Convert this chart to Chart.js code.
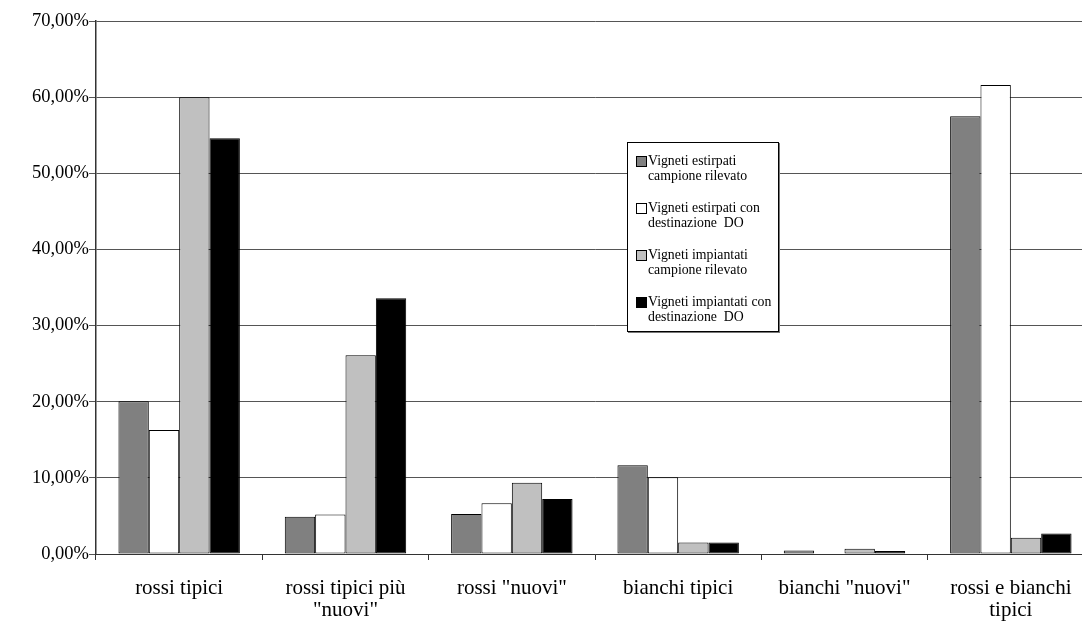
<!DOCTYPE html>
<html>
<head>
<meta charset="utf-8">
<script src="https://cdn.jsdelivr.net/npm/chart.js@4"></script>
<style>
  html, body { margin: 0; padding: 0; background: #fff; overflow: hidden; width: 1082px; height: 621px; }
  #wrap { position: absolute; left: 0; top: 0; width: 1100px; height: 621px; }
  #legend {
    position: absolute; left: 627px; top: 142px; width: 150px; height: 188px;
    border: 1px solid #000; background: #fff; box-shadow: 1px 1px 0 #777;
    font-family: "Liberation Serif", "Times New Roman", serif; font-size: 13.8px; color: #000;
    box-sizing: content-box;
  }
  .item { position: absolute; left: 0; width: 150px; height: 30px; }
  .sw { position: absolute; left: 8px; top: 3px; width: 9px; height: 9px; border: 1px solid #000; }
  .txt { position: absolute; left: 20px; top: 0; line-height: 15px; white-space: pre; }
</style>
</head>
<body>
<div id="wrap"><canvas id="c" width="1100" height="621"></canvas></div>
<div id="legend"></div>
<script>
const categories = [
  ["rossi tipici"],
  ["rossi tipici più", "\"nuovi\""],
  ["rossi \"nuovi\""],
  ["bianchi tipici"],
  ["bianchi \"nuovi\""],
  ["rossi e bianchi", "tipici"]
];
const seriesLabels = [
  "Vigneti estirpati\ncampione rilevato",
  "Vigneti estirpati con\ndestinazione  DO",
  "Vigneti impiantati\ncampione rilevato",
  "Vigneti impiantati con\ndestinazione  DO"
];
const estirpatiCampione   = [20.05, 4.90, 5.26, 11.64, 0.47, 57.50];
const estirpatiDO         = [16.30, 5.20, 6.65, 10.07, 0.00, 61.60];
const impiantatiCampione  = [60.00, 26.10, 9.37, 1.52, 0.70, 2.14];
const impiantatiDO        = [54.60, 33.60, 7.23, 1.52, 0.40, 2.70];
const seriesColors = ["#808080", "#ffffff", "#c0c0c0", "#000000"];
const yTicks = [0, 10, 20, 30, 40, 50, 60, 70];

const seriesData = [estirpatiCampione, estirpatiDO, impiantatiCampione, impiantatiDO];
const fontFam = '"Liberation Serif", "Times New Roman", serif';

const datasets = seriesData.map((d, i) => ({
  label: seriesLabels[i].replace("\n", " "),
  data: d,
  backgroundColor: seriesColors[i],
  borderColor: "#000",
  borderWidth: 1,
  borderSkipped: false,
  categoryPercentage: 0.73,
  barPercentage: 1.0
}));

new Chart(document.getElementById("c"), {
  type: "bar",
  data: { labels: categories, datasets },
  options: {
    responsive: false,
    animation: false,
    devicePixelRatio: 1,
    layout: { padding: { top: 21, right: 6, left: 0, bottom: 0 } },
    plugins: { legend: { display: false }, tooltip: { enabled: false } },
    scales: {
      x: {
        offset: true,
        grid: { display: true, offset: true, drawOnChartArea: false, drawTicks: true, tickLength: 6, color: "#333", lineWidth: 1 },
        border: { display: true, color: "#333", width: 1 },
        ticks: { color: "#000", font: { family: fontFam, size: 21, lineHeight: 1.05 }, maxRotation: 0, minRotation: 0, autoSkip: false, padding: 17 },
        afterFit: s => { s.height = 67; }
      },
      y: {
        min: 0, max: 70,
        afterBuildTicks: s => { s.ticks = yTicks.map(v => ({ value: v })); },
        grid: { color: "#555", lineWidth: 1, drawTicks: true, tickLength: 7 },
        border: { display: true, color: "#333", width: 1.5 },
        ticks: {
          color: "#000", font: { family: fontFam, size: 18.5 }, padding: 0,
          callback: v => v.toFixed(2).replace(".", ",") + "%"
        },
        afterFit: s => { s.width = 96; }
      }
    }
  }
});

const leg = document.getElementById("legend");
seriesLabels.forEach((lab, i) => {
  const it = document.createElement("div");
  it.className = "item";
  it.style.top = (10 + i * 47) + "px";
  const sw = document.createElement("div");
  sw.className = "sw";
  sw.style.background = seriesColors[i];
  const tx = document.createElement("div");
  tx.className = "txt";
  tx.textContent = lab;
  it.appendChild(sw); it.appendChild(tx);
  leg.appendChild(it);
});
</script>
</body>
</html>
